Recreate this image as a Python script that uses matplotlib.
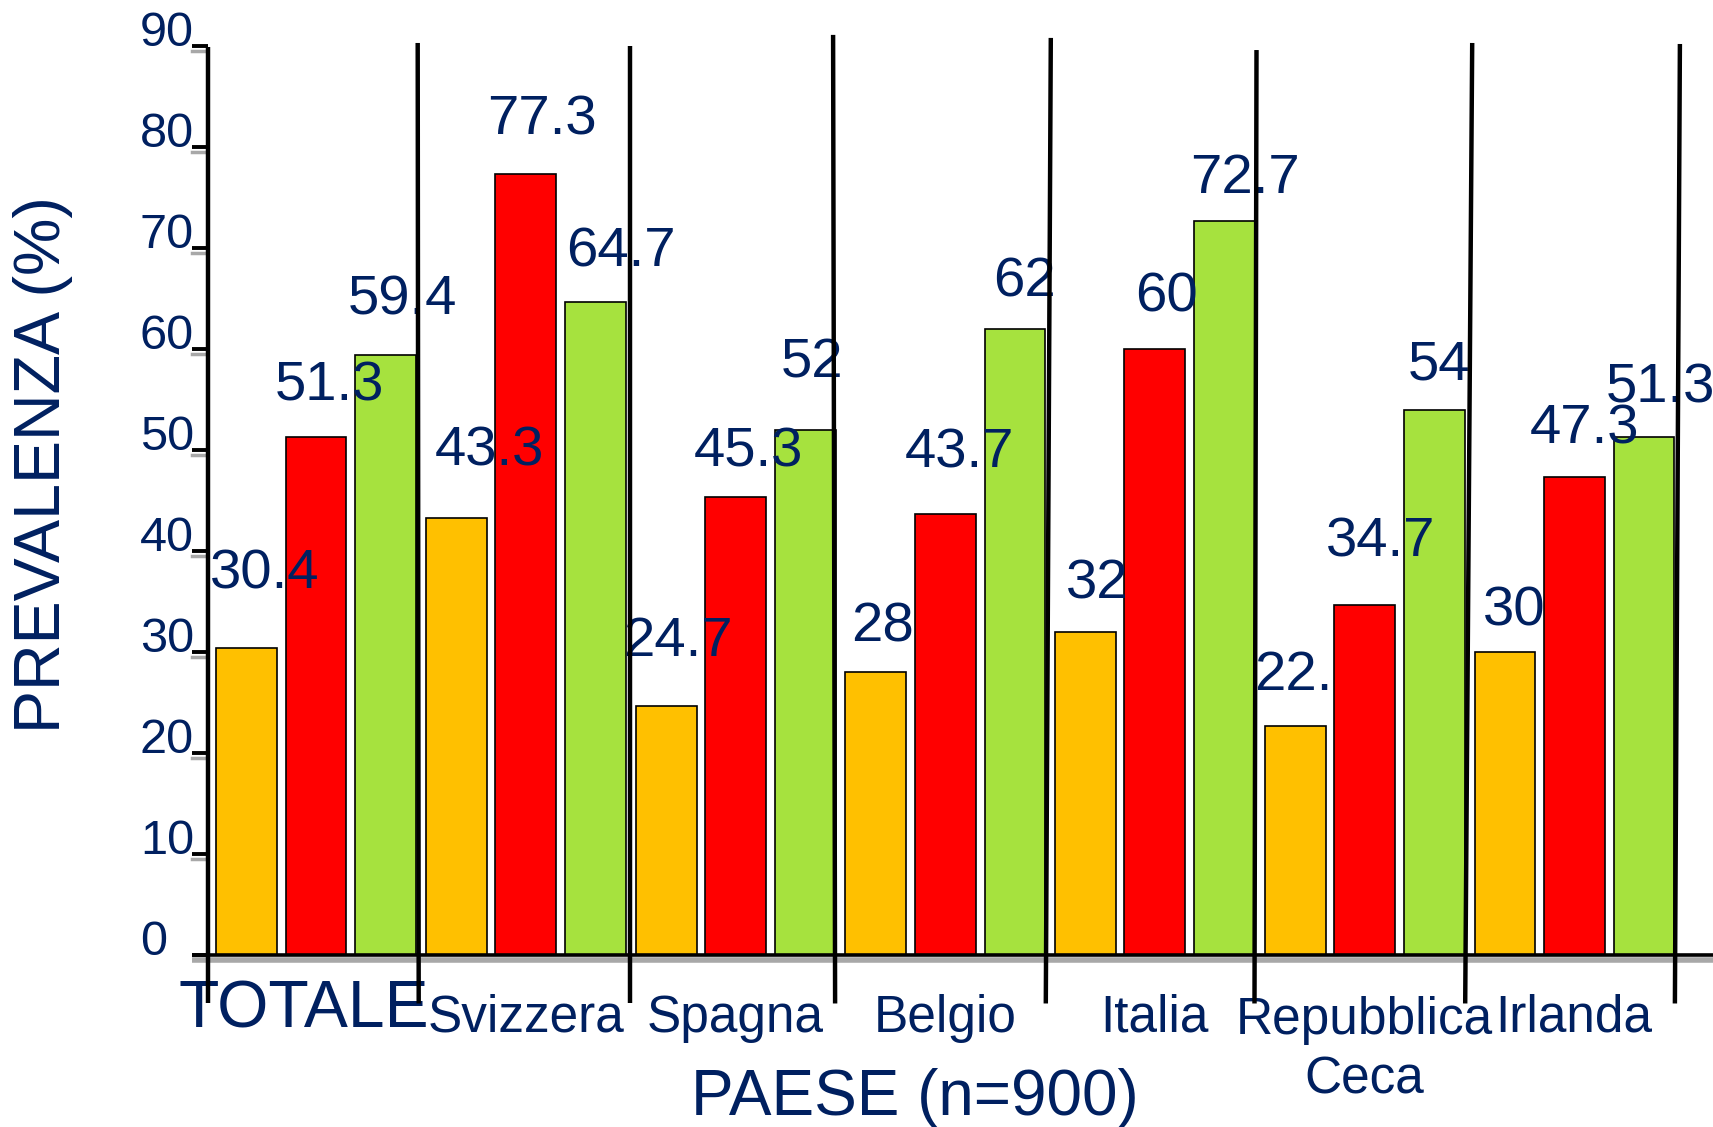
import matplotlib
matplotlib.use("Agg")
import numpy as np
from matplotlib import pyplot as plt
from matplotlib.transforms import Bbox, TransformedBbox, ScaledTranslation, blended_transform_factory

# Prevalence (%) by country, three series per country
countries = ["TOTALE", "Svizzera", "Spagna", "Belgio", "Italia", "Repubblica\nCeca", "Irlanda"]
orange_vals = [30.4, 43.3, 24.7, 28, 32, 22.7, 30]
red_vals = [51.3, 77.3, 45.3, 43.7, 60, 34.7, 47.3]
green_vals = [59.4, 64.7, 52, 62, 72.7, 54, 51.3]
y_ticks = [0, 10, 20, 30, 40, 50, 60, 70, 80, 90]

NAVY = "#002060"
COLOURS = ["#FFC000", "#FF0000", "#A6E23E"]
FONT = "Liberation Sans"
PX = 0.72  # points per pixel at dpi 100

BAR_W = 0.29
OFFSETS = [-0.33, 0.0, 0.333]

# label nudges in pixels (dx, lift above bar top), per country and series
label_dx = [[18, 13, 17], [33, 16, 25], [12, 13, 7], [7, 14, 10],
            [12, 12, 20], [14, 16, 5], [9, 10, 16]]
label_lift = [[59, 36, 41], [52, 40, 35], [50, 31, 52], [31, 46, 32],
              [33, 38, 28], [36, 48, 30], [27, 34, 34]]

# hand drawn separators: top height, x lean at top / bottom (px)
sep_top = [89.9, 90.3, 90.0, 91.1, 90.8, 89.6, 90.3, 90.2]
sep_dx_top = [0, 0, 3, -4, 4, 0, 6, 4]
sep_dx_bot = [0, 1, 3, -2, -1, -2, -1, -1]
SEP_BOTTOM = -4.8

plt.rcParams["font.family"] = [FONT, "DejaVu Sans"]

fig = plt.figure(figsize=(17.13, 11.27), dpi=100)
ax = fig.add_axes([208 / 1713, 172 / 1127, 1505 / 1713, 909 / 1127])

x = np.arange(len(countries))
px_per_unit = 209.7
x_left = -0.515
ax.set_xlim(x_left, x_left + 1505 / px_per_unit)
ax.set_ylim(0, 90)

series = [orange_vals, red_vals, green_vals]
for s, (vals, col, off) in enumerate(zip(series, COLOURS, OFFSETS)):
    ax.bar(x + off, vals, width=BAR_W, color=col, edgecolor="black",
           linewidth=1.2, zorder=2)

# value labels
for s, (vals, off) in enumerate(zip(series, OFFSETS)):
    for i, v in enumerate(vals):
        txt = f"{v:g}"
        t = ax.annotate(txt, (x[i] + off, v),
                        xytext=(label_dx[i][s], label_lift[i][s]),
                        textcoords="offset pixels", ha="center", va="baseline",
                        fontsize=40.5, color=NAVY, zorder=3, annotation_clip=False)
        if countries[i].startswith("Repubblica") and s == 0:
            # label runs into the neighbouring red bar and is cut there
            edge = x[i] + OFFSETS[1] - BAR_W / 2
            t.set_clip_box(TransformedBbox(Bbox([[-5, -20], [edge, 120]]), ax.transData))
            t.set_clip_on(True)

# group separators (the first one doubles as the y axis)
for k in range(len(countries) + 1):
    xb = x_left + k
    ax.plot([xb + sep_dx_top[k] / px_per_unit, xb + sep_dx_bot[k] / px_per_unit],
            [sep_top[k], SEP_BOTTOM], color="black", lw=3.2, clip_on=False,
            zorder=5, solid_capstyle="butt")

# baseline with its grey shadow
x_ext = x_left - 16 / px_per_unit
x_end = ax.get_xlim()[1]
ax.plot([x_ext, x_end], [-0.45, -0.45], color="#a8a8a8", lw=4.0, clip_on=False,
        zorder=3.4, solid_capstyle="butt")
ax.plot([x_ext, x_end], [0, 0], color="black", lw=2.6, clip_on=False,
        zorder=3.5, solid_capstyle="butt")

for sp in ax.spines.values():
    sp.set_visible(False)

# y ticks
ax.set_yticks(y_ticks)
ax.set_yticklabels([str(t) for t in y_ticks])
ax.tick_params(axis="y", direction="out", length=16 * PX, width=2.8,
               pad=52 * PX, labelsize=35, labelcolor=NAVY, color="black")
for lab in ax.get_yticklabels():
    lab.set_ha("left")
    lab.set_va("baseline")
blend = blended_transform_factory(ax.transAxes, ax.transData)
for t in y_ticks[1:]:
    ax.plot([-16 / 1505, -1 / 1505], [t - 0.45, t - 0.45], transform=blend,
            color="#a8a8a8", lw=2.5, clip_on=False, zorder=1)

# x tick labels
ax.set_xticks(x)
ax.set_xticklabels(countries)
ax.tick_params(axis="x", length=0, pad=77 * PX, labelsize=37, labelcolor=NAVY)
for lab in ax.get_xticklabels():
    lab.set_va("baseline")
    lab.set_linespacing(1.3)
    n_extra = lab.get_text().count("\n")
    if n_extra:
        # keep the first line on the shared baseline
        lab.set_transform(lab.get_transform()
                          + ScaledTranslation(0, -0.62 * n_extra, fig.dpi_scale_trans))
total_lab = ax.get_xticklabels()[0]
total_lab.set_fontsize(47.5)
total_lab.set_transform(total_lab.get_transform()
                        + ScaledTranslation(-0.12, 0.05, fig.dpi_scale_trans))

ax.set_ylabel("PREVALENZA (%)", fontsize=46.5, color=NAVY, va="center")
ax.yaxis.set_label_coords(-0.1096, 0.540)
ax.set_xlabel("PAESE (n=900)", fontsize=46, color=NAVY, va="baseline")
ax.xaxis.set_label_coords(0.470, -0.176)

fig.savefig("out.png", dpi=100)
